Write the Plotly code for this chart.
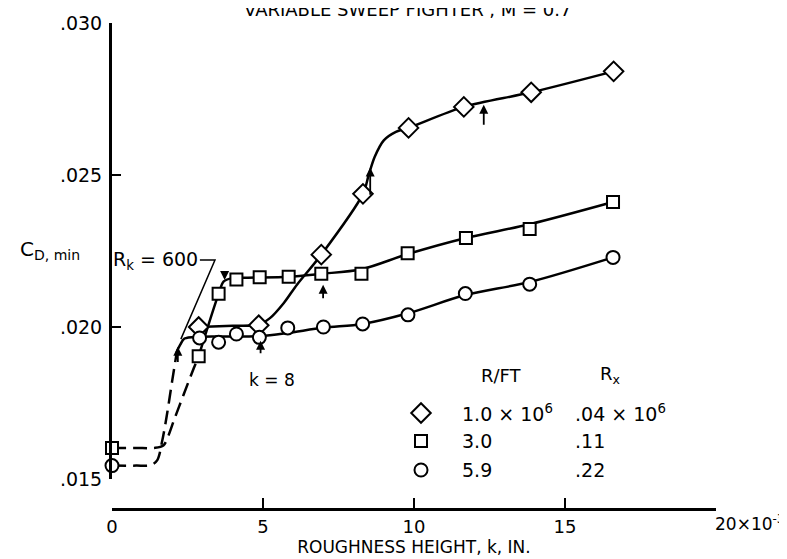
import plotly.graph_objects as go

# ---------------- data ----------------
# R/FT = 1.0 x 10^6 (diamonds)
k_diamond = [2.87, 4.86, 6.93, 8.31, 9.82, 11.65, 13.88, 16.61]
cd_diamond = [0.02000, 0.02006, 0.02238, 0.02438, 0.02655, 0.02724, 0.02772, 0.02841]
# R/FT = 3.0 x 10^6 (squares)
k_square = [0.0, 2.87, 3.53, 4.12, 4.89, 5.85, 6.93, 8.26, 9.79, 11.72, 13.83, 16.59]
cd_square = [0.01602, 0.01904, 0.02109, 0.02156, 0.02164, 0.02165, 0.02175, 0.02175,
             0.02243, 0.02293, 0.02322, 0.02411]
# R/FT = 5.9 x 10^6 (circles)
k_circle = [0.0, 2.90, 3.53, 4.12, 4.88, 5.82, 7.0, 8.3, 9.8, 11.70, 13.83, 16.59]
cd_circle = [0.01544, 0.01964, 0.01950, 0.01977, 0.01966, 0.01997, 0.0200, 0.0201,
             0.0204, 0.02110, 0.02141, 0.02229]

# faired curves as drawn on the reference
diamond_fair_k = [2.87, 4.0, 4.86, 5.24, 5.69, 6.13, 6.93, 8.31, 8.5, 8.7, 9.0, 9.4, 9.82, 11.65, 13.88, 16.61]
diamond_fair_cd = [0.0200, 0.02004, 0.02008, 0.0203, 0.02079, 0.0214, 0.02238, 0.02438, 0.02500,
                   0.02560, 0.02614, 0.02642, 0.02655, 0.02724, 0.02772, 0.02841]
square_fair_k = [2.87, 3.53, 3.7, 3.95, 4.5, 5.85, 6.93, 8.26, 9.79, 11.72, 13.83, 16.59]
square_fair_cd = [0.01904, 0.02109, 0.0215, 0.0216, 0.02162, 0.02165, 0.02175, 0.0219, 0.0224,
                  0.02293, 0.02338, 0.02411]
square_dash_k = [0.0, 0.8, 1.4, 1.7, 1.88, 2.04, 2.37, 2.71, 2.87]
square_dash_cd = [0.01602, 0.01602, 0.01602, 0.0161, 0.01646, 0.0169, 0.01777, 0.01865, 0.01904]
circle_fair_k = [2.15, 2.26, 2.4, 2.9, 3.5, 4.9, 5.8, 7.0, 8.3, 9.8, 11.7, 13.83, 16.59]
circle_fair_cd = [0.0192, 0.01942, 0.01962, 0.01968, 0.01969, 0.0197, 0.0198, 0.01998, 0.0201,
                  0.02045, 0.02105, 0.02148, 0.02229]
circle_dash_k = [0.0, 0.8, 1.3, 1.5, 1.66, 1.82, 1.99, 2.15]
circle_dash_cd = [0.01544, 0.01544, 0.01546, 0.01562, 0.01624, 0.01712, 0.01821, 0.0192]

# R_k = 600 leader line
leader_k = [2.91, 3.41, 2.28]
leader_cd = [0.0222, 0.0222, 0.0196]

# tick labels
x_ticks = [0, 5, 10, 15, 20]
x_ticktext = ["0", "5", "10", "15", ""]
y_ticks = [0.015, 0.020, 0.025, 0.030]
y_ticktext = [".015", ".020", ".025", ".030"]

# legend table
leg_rft = ["1.0 × 10<sup>6</sup>", "3.0", "5.9"]
leg_rx = [".04 × 10<sup>6</sup>", ".11", ".22"]
leg_symbols = ["diamond", "square", "circle"]

# arrows (k, tail cd, head cd)
arrow_k = [4.92, 6.99, 12.31, 8.55, 2.18, 3.73]
arrow_tail = [0.01909, 0.0209, 0.0266, 0.02430, 0.0188, 0.02180]
arrow_head = [0.01955, 0.02139, 0.02731, 0.02525, 0.01935, 0.02155]

FONT = "DejaVu Sans"
fig = go.Figure()

line_style = dict(color="black", width=2.5, shape="spline", smoothing=0.9)
dash_style = dict(color="black", width=2.5, shape="spline", smoothing=0.9, dash="14px,7px")

fig.add_trace(go.Scatter(x=circle_dash_k, y=circle_dash_cd, mode="lines", line=dash_style, cliponaxis=False))
fig.add_trace(go.Scatter(x=square_dash_k, y=square_dash_cd, mode="lines", line=dash_style, cliponaxis=False))
fig.add_trace(go.Scatter(x=circle_fair_k, y=circle_fair_cd, mode="lines", line=line_style, cliponaxis=False))
fig.add_trace(go.Scatter(x=square_fair_k, y=square_fair_cd, mode="lines", line=line_style, cliponaxis=False))
fig.add_trace(go.Scatter(x=diamond_fair_k, y=diamond_fair_cd, mode="lines", line=line_style, cliponaxis=False))
fig.add_trace(go.Scatter(x=leader_k, y=leader_cd, mode="lines", line=dict(color="black", width=1.5), cliponaxis=False))

mk = dict(color="white", line=dict(color="black", width=2))
msize = {"diamond": 15, "square": 12, "circle": 13}
fig.add_trace(go.Scatter(x=k_diamond, y=cd_diamond, mode="markers", cliponaxis=False,
                         marker=dict(symbol="diamond", size=msize["diamond"], **mk)))
fig.add_trace(go.Scatter(x=k_square, y=cd_square, mode="markers", cliponaxis=False,
                         marker=dict(symbol="square", size=msize["square"], **mk)))
fig.add_trace(go.Scatter(x=k_circle, y=cd_circle, mode="markers", cliponaxis=False,
                         marker=dict(symbol="circle", size=msize["circle"], **mk)))

# plot geometry (pixels) for annotation placement
L, R, T, B = 104, 708, 15, 501
Y0 = 471  # pixel row of CD = .015
def px(xp):
    return (xp - L) / (R - L)
def py(yp):
    return (B - yp) / (B - T)
def kx(xp):
    return (xp - L) / (R - L) * 20
def cdy(yp):
    return 0.030 - (yp - T) / (Y0 - T) * 0.015

ann = []
# legend table
rows_y = [405, 433, 462]
for a, b, yy in zip(leg_rft, leg_rx, rows_y):
    ann.append(dict(x=px(452), y=py(yy), xref="paper", yref="paper", text=a, showarrow=False,
                    xanchor="left", yanchor="middle", font=dict(size=19)))
    ann.append(dict(x=px(565), y=py(yy), xref="paper", yref="paper", text=b, showarrow=False,
                    xanchor="left", yanchor="middle", font=dict(size=19)))
ann.append(dict(x=px(493), y=py(367), xref="paper", yref="paper", text="R/FT", showarrow=False,
                xanchor="center", yanchor="middle", font=dict(size=18)))
ann.append(dict(x=px(602), y=py(367), xref="paper", yref="paper", text="R<sub>x</sub>", showarrow=False,
                xanchor="center", yanchor="middle", font=dict(size=18)))
for s, yy in zip(leg_symbols, rows_y):
    fig.add_trace(go.Scatter(x=[kx(413)], y=[cdy(yy)], mode="markers", cliponaxis=False,
                             marker=dict(symbol=s, size=msize[s], **mk)))

# title (cut at top)
ann.append(dict(x=px(400), y=py(1), xref="paper", yref="paper",
                text="VARIABLE SWEEP FIGHTER , M = 0.7", showarrow=False,
                xanchor="center", yanchor="middle", font=dict(size=18)))
# y axis label
ann.append(dict(x=px(10), y=py(242), xref="paper", yref="paper", text="C<sub>D, min</sub>",
                showarrow=False, xanchor="left", yanchor="middle", font=dict(size=20)))
# 20 x 10^-3
ann.append(dict(x=px(705), y=py(515), xref="paper", yref="paper", text="20×10<sup>-3</sup>",
                showarrow=False, xanchor="left", yanchor="middle", font=dict(size=17)))
# R_k = 600
ann.append(dict(x=2.91, y=0.0222, xref="x", yref="y", text="R<sub>k</sub> = 600",
                showarrow=False, xanchor="right", yanchor="middle", font=dict(size=19)))
# k = 8
ann.append(dict(x=5.3, y=0.01825, xref="x", yref="y", text="k = 8",
                showarrow=False, xanchor="center", yanchor="middle", font=dict(size=17)))
# arrows
for ak, at, ah in zip(arrow_k, arrow_tail, arrow_head):
    ann.append(dict(x=ak, y=ah, ax=ak, ay=at, xref="x", yref="y", axref="x", ayref="y",
                    showarrow=True, arrowhead=2, arrowsize=1, arrowwidth=1.8, arrowcolor="black", text=""))

fig.update_layout(
    template="none",
    width=787, height=559,
    margin=dict(l=L, r=787 - R, t=T, b=559 - B, pad=0),
    plot_bgcolor="white", paper_bgcolor="white",
    showlegend=False,
    font=dict(family=FONT, color="black", size=18),
    annotations=ann,
    xaxis=dict(range=[0, 20], tickvals=x_ticks, ticktext=x_ticktext, ticks="inside", ticklen=10,
               tickwidth=2, tickcolor="black", showline=True, linewidth=3, linecolor="black",
               anchor="free", position=0, showgrid=False, zeroline=False, automargin=False,
               tickfont=dict(size=18),
               title=dict(text="ROUGHNESS HEIGHT, k, IN.", standoff=4, font=dict(size=17))),
    yaxis=dict(range=[0.015, 0.030], domain=[(B - Y0) / (B - T), 1], tickvals=y_ticks, ticktext=y_ticktext,
               ticks="inside", ticklen=9, tickwidth=2, tickcolor="black", showline=True, linewidth=3,
               linecolor="black", showgrid=False, zeroline=False, ticklabelstandoff=3, automargin=False,
               tickfont=dict(size=19)),
)

fig.write_html("out.html")
